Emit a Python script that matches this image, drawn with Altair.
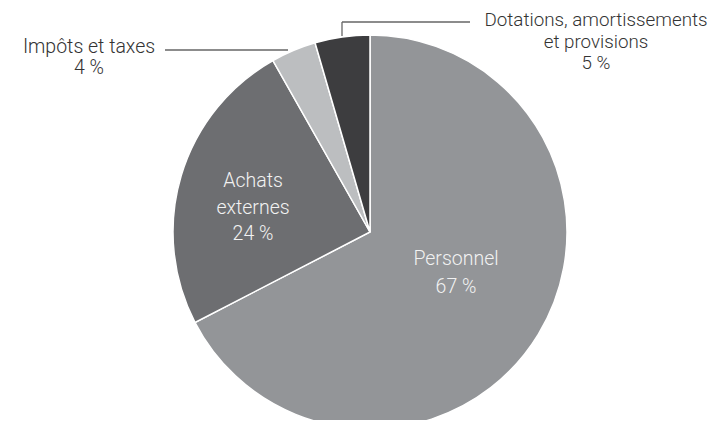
import altair as alt
import pandas as pd

categories = ["Personnel", "Achats externes", "Impôts et taxes", "Dotations, amortissements et provisions"]
values = [67.4, 24.4, 3.7, 4.5]
order = [1, 2, 3, 4]
colors = ["#939598", "#6d6e71", "#bcbec0", "#3d3d3f"]
label_texts = [["Personnel", "67 %"], ["Achats", "externes", "24 %"], ["Impôts et taxes", "4 %"],
               ["Dotations, amortissements", "et provisions", "5 %"]]

df = pd.DataFrame({"cat": categories, "value": values, "order": order})

CX, CY, R = 362, 224, 197
FONT = "Roboto"

pie = alt.Chart(df).mark_arc(outerRadius=R, stroke="white", strokeWidth=1.5).encode(
    theta=alt.Theta("value:Q", stack=True),
    order=alt.Order("order:Q"),
    color=alt.Color("cat:N", scale=alt.Scale(domain=categories, range=colors), legend=None),
    x=alt.value(CX), y=alt.value(CY),
)

def text_layer(lines, x, y, color, lh, size=19.5):
    d = pd.DataFrame({"t": [lines]})
    return alt.Chart(d).mark_text(
        align="center", baseline="middle", font=FONT, fontSize=size, fontWeight=300,
        color=color, lineHeight=lh,
    ).encode(text="t", x=alt.value(x), y=alt.value(y))

lbl_pers = text_layer(label_texts[0], 448, 251, "#f2f2f2", 28)
lbl_ach = text_layer(label_texts[1], 245, 173, "#f2f2f2", 26.5)
lbl_imp = text_layer(label_texts[2], 81, 39, "#333333", 21)
lbl_dot = text_layer(label_texts[3], 588, 12, "#333333", 21.5, 18.8)

dummy = pd.DataFrame({"a": [0]})
line_imp = alt.Chart(dummy).mark_rule(color="#666666", strokeWidth=1.3).encode(
    x=alt.value(157), x2=alt.value(280), y=alt.value(42))
line_dot_h = alt.Chart(dummy).mark_rule(color="#666666", strokeWidth=1.3).encode(
    x=alt.value(334), x2=alt.value(462), y=alt.value(14))
line_dot_v = alt.Chart(dummy).mark_rule(color="#666666", strokeWidth=1.3).encode(
    x=alt.value(334), y=alt.value(14), y2=alt.value(28))

chart = alt.layer(pie, line_imp, line_dot_h, line_dot_v, lbl_pers, lbl_ach, lbl_imp, lbl_dot).properties(
    width=702, height=412, padding=0, autosize=alt.AutoSizeParams(type="none"),
).configure_view(stroke=None)

chart.save("out.html", embed_options={"renderer": "svg", "actions": False})
